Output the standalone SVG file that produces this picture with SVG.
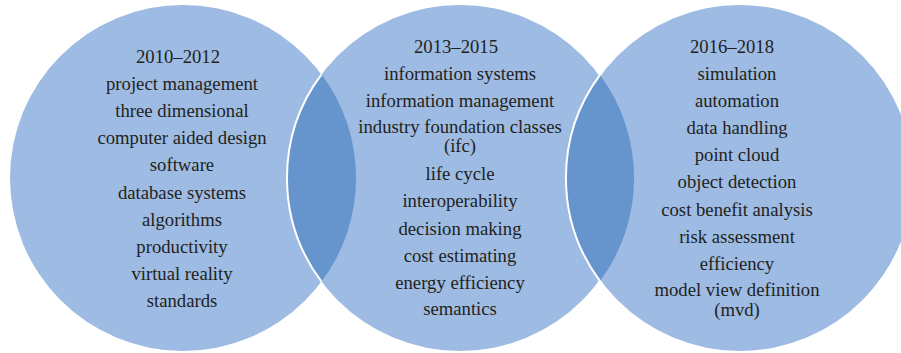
<svg xmlns="http://www.w3.org/2000/svg" width="901" height="353" viewBox="0 0 901 353">
<style>
.c{fill:#9dbbe3;}
.lens{fill:#6695cd;}
.edge{fill:none;stroke:#ffffff;stroke-width:2;}
text{font-family:"Liberation Serif","DejaVu Serif",serif;font-size:18.7px;fill:#231f20;text-anchor:middle;}
</style>
<rect width="901" height="353" fill="#ffffff"/>
<g id="circle-2010-2012">
<circle class="c" cx="183" cy="178" r="173"/>
</g>
<g id="circle-2013-2015">
<circle class="c" cx="460" cy="178" r="173"/>
</g>
<g id="circle-2016-2018">
<circle class="c" cx="740" cy="178" r="173"/>
</g>
<g id="overlaps">
<path class="lens" d="M321.5,74.3 A173,173 0 0 1 321.5,281.7 A173,173 0 0 1 321.5,74.3 Z"/>
<path class="edge" d="M321.5,74.3 A173,173 0 0 0 321.5,281.7"/>
<path class="lens" d="M600,74.9 A173,173 0 0 1 600,281.1 A173,173 0 0 1 600,74.9 Z"/>
<path class="edge" d="M600,74.9 A173,173 0 0 0 600,281.1"/>
</g>
<g id="text-2010-2012">
<text x="178" y="63">2010–2012</text>
<text x="182" y="90">project management</text>
<text x="182" y="117">three dimensional</text>
<text x="182" y="144">computer aided design</text>
<text x="182" y="171">software</text>
<text x="182" y="199">database systems</text>
<text x="182" y="226">algorithms</text>
<text x="182" y="253">productivity</text>
<text x="182" y="280">virtual reality</text>
<text x="182" y="307">standards</text>
</g>
<g id="text-2013-2015">
<text x="456" y="53">2013–2015</text>
<text x="460" y="80">information systems</text>
<text x="460" y="107">information management</text>
<text x="460" y="133">industry foundation classes</text>
<text x="460" y="152">(ifc)</text>
<text x="460" y="180">life cycle</text>
<text x="460" y="207">interoperability</text>
<text x="460" y="235">decision making</text>
<text x="460" y="262">cost estimating</text>
<text x="460" y="289">energy efficiency</text>
<text x="460" y="315">semantics</text>
</g>
<g id="text-2016-2018">
<text x="732" y="53">2016–2018</text>
<text x="737" y="80">simulation</text>
<text x="737" y="107">automation</text>
<text x="737" y="134">data handling</text>
<text x="737" y="161">point cloud</text>
<text x="737" y="188">object detection</text>
<text x="737" y="216">cost benefit analysis</text>
<text x="737" y="243">risk assessment</text>
<text x="737" y="270">efficiency</text>
<text x="737" y="296">model view definition</text>
<text x="737" y="316">(mvd)</text>
</g>
</svg>
